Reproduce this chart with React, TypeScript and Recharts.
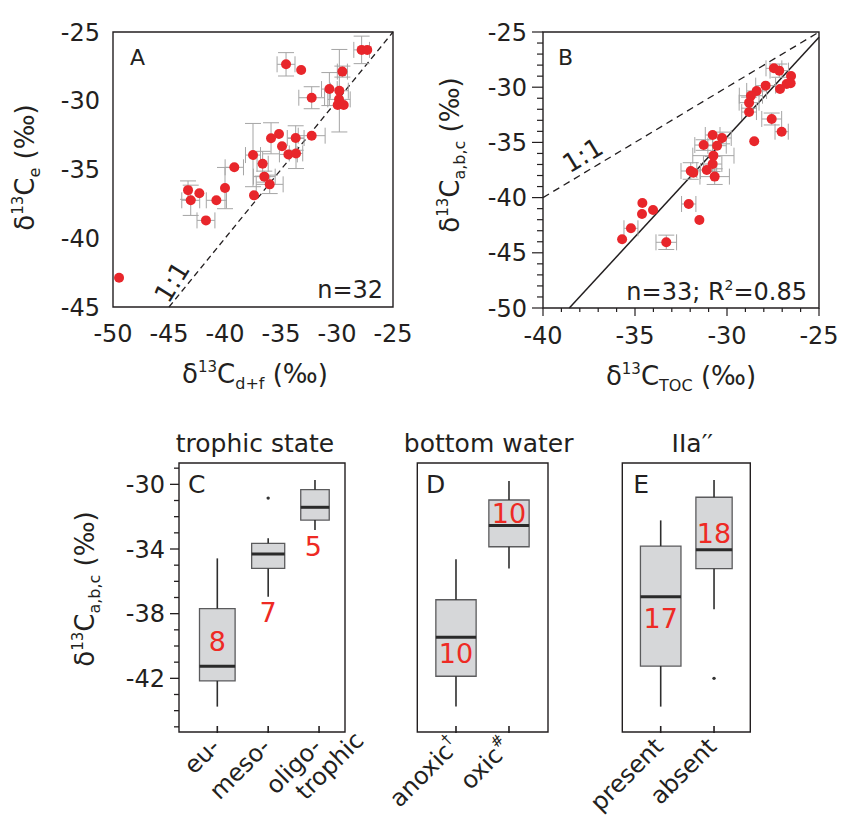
import React from 'react';
import {
  ScatterChart,
  ComposedChart,
  Scatter,
  XAxis,
  YAxis,
  ErrorBar,
  ReferenceLine,
  ReferenceArea,
  ReferenceDot,
} from 'recharts';

const FONT = '"DejaVu Sans", Verdana, sans-serif';
const INK = '#231f20';
const DOT_RED = '#e8262b';
const NUM_RED = '#ee2a24';
const ERR_GRAY = '#a5a5a5';
const BOX_FILL = '#d6d7d9';
const BOX_EDGE = '#5b5b5d';
const WHISKER = '#2e2e2e';

const TICK_FS = 24;

// ---------------- Panel A data ----------------
const aX = [-27.8, -27.3, -34.55, -33.2, -29.52, -30.68, -29.79, -32.26, -29.82, -29.94, -29.4, -35.18, -35.89, -33.69, -32.26, -34.91, -34.34, -33.66, -37.5, -36.64, -39.17, -36.49, -36.01, -40.0, -43.3, -42.29, -37.41, -43.06, -40.77, -41.7, -49.46];
const aY = [-26.3, -26.3, -27.35, -27.76, -27.88, -29.15, -29.27, -29.78, -29.9, -30.31, -30.31, -32.42, -32.73, -32.71, -32.54, -33.31, -33.9, -33.83, -33.95, -34.58, -34.84, -35.52, -36.08, -36.35, -36.5, -36.73, -36.88, -37.24, -37.24, -38.7, -42.87];
const aErrX = [0.7, 0, 0.8, 0, 0.45, 0.7, 0.8, 1.15, 1.0, 0, 0, 0, 0, 0.75, 1.2, 0, 0.8, 0.6, 0.67, 0.5, 0.82, 0.97, 1.2, 0, 0, 0, 0, 0.8, 0.9, 0.8, 0];
const aErrY = [1.0, 0, 0.85, 0, 0.4, 1.2, 3.0, 0.8, 0, 0, 0, 0, 1.13, 0.89, 0, 0, 0, 1.1, 2.3, 0.9, 0, 0.4, 0.67, 1.5, 0.67, 0, 0, 1.1, 0, 0, 0];
const aXTicks = [-50, -45, -40, -35, -30, -25];
const aYTicks = [-45, -40, -35, -30, -25];
const aOneToOne = [{ x: -45, y: -45 }, { x: -25, y: -25 }];

// ---------------- Panel B data ----------------
const bX = [-27.45, -27.16, -26.52, -27.9, -26.76, -26.54, -27.12, -28.39, -28.7, -28.8, -28.8, -27.57, -27.03, -30.78, -30.27, -31.27, -30.54, -28.52, -30.74, -30.78, -31.97, -31.83, -31.1, -30.67, -34.6, -32.08, -34.02, -34.62, -31.5, -35.22, -35.7, -33.3];
const bY = [-28.29, -28.5, -28.99, -29.86, -29.71, -29.65, -30.16, -30.34, -30.77, -31.4, -32.25, -32.88, -34.03, -34.33, -34.6, -35.24, -35.3, -34.9, -36.2, -36.96, -37.59, -37.74, -37.5, -38.1, -40.49, -40.58, -41.12, -41.49, -42.03, -42.78, -43.78, -44.05];
const bErrX = [0.43, 0.5, 0, 0.54, 0, 0, 0, 0.54, 0.63, 0.54, 0.4, 0.54, 0.36, 0.4, 0.5, 0.48, 0.5, 0, 1.12, 0.5, 0.53, 0, 0.54, 0.8, 0, 0.39, 0, 0, 0, 0.38, 0, 0.56];
const bErrY = [0, 0.6, 0, 0, 0, 0, 0, 0, 0, 0.5, 0, 0.54, 0, 0, 0.53, 0.48, 0, 0, 0, 0.68, 0.75, 0, 0, 0.71, 0, 0, 0, 0, 0, 0, 0, 0.65];
const bXTicks = [-40, -39, -38, -37, -36, -35, -34, -33, -32, -31, -30, -29, -28, -27, -26, -25];
const bYTicks = [-50, -49, -48, -47, -46, -45, -44, -43, -42, -41, -40, -39, -38, -37, -36, -35, -34, -33, -32, -31, -30, -29, -28, -27, -26, -25];
const bOneToOne = [{ x: -40, y: -40 }, { x: -25, y: -25 }];
const bFit = [{ x: -38.57, y: -50 }, { x: -25, y: -25.48 }];

// ---------------- Box panels (C, D, E) ----------------
const boxYTicks = [-45, -44, -43, -42, -41, -40, -39, -38, -37, -36, -35, -34, -33, -32, -31, -30, -29];
const boxYMajor = [-42, -38, -34, -30];
const boxDomain: [number, number] = [-45.32, -28.68];

// C: trophic state
const trophicTicks = [1, 2, 3];
const trophicLabels = [[{ text: 'eu-' }], [{ text: 'meso-' }], [{ text: 'oligo-' }, { text: 'trophic' }]];
const trophicPos = [1, 2, 2.92];
const trophicLow = [-43.75, -36.95, -32.83];
const trophicQ1 = [-42.16, -35.2, -32.21];
const trophicMed = [-41.26, -34.31, -31.42];
const trophicQ3 = [-37.69, -33.65, -30.33];
const trophicHigh = [-34.58, -33.34, -29.73];
const trophicN = [8, 7, 5];
const trophicNX = [1, 2, 2.89];
const trophicNY = [-39.73, -37.92, -33.86];
const trophicOutX = [2];
const trophicOutY = [-30.85];

// D: bottom water
const waterTicks = [1, 2];
const waterLabels = [[{ text: 'anoxic', sup: '†' }], [{ text: 'oxic', sup: '#' }]];
const waterPos = [1, 2];
const waterLow = [-43.75, -35.2];
const waterQ1 = [-41.87, -33.86];
const waterMed = [-39.46, -32.54];
const waterQ3 = [-37.14, -30.97];
const waterHigh = [-34.64, -29.8];
const waterN = [10, 10];
const waterNX = [1, 2];
const waterNY = [-40.45, -31.8];
const waterOutX: number[] = [];
const waterOutY: number[] = [];

// E: IIa''
const iiaTicks = [1, 2];
const iiaLabels = [[{ text: 'present' }], [{ text: 'absent' }]];
const iiaPos = [1, 2];
const iiaLow = [-43.75, -37.73];
const iiaQ1 = [-41.24, -35.22];
const iiaMed = [-36.95, -34.04];
const iiaQ3 = [-33.82, -30.8];
const iiaHigh = [-32.23, -29.73];
const iiaN = [17, 18];
const iiaNX = [1, 2];
const iiaNY = [-38.29, -33.03];
const iiaOutX = [2];
const iiaOutY = [-42.0];

// ---------------- helpers ----------------
type LabelLine = { text: string; sup?: string };

const textDot = (key: string, x: number, y: number, render: (cx: number, cy: number) => React.ReactNode) => (
  <ReferenceDot
    key={key}
    x={x}
    y={y}
    r={0}
    ifOverflow="visible"
    shape={() => <g />}
    label={{ content: (p: any) => render(p.viewBox.x, p.viewBox.y) }}
  />
);

const deltaTitle = (x: number, y: number, sub: string, rotate: boolean) => (
  <text
    x={x}
    y={y}
    textAnchor="middle"
    fontSize={26}
    fontFamily={FONT}
    fill={INK}
    transform={rotate ? `rotate(-90, ${x}, ${y})` : undefined}
  >
    δ
    <tspan fontSize={15} dy={-11}>13</tspan>
    <tspan dy={11}>C</tspan>
    <tspan fontSize={16} dy={6}>{sub}</tspan>
    <tspan dy={-6}> (‰)</tspan>
  </text>
);

const BTickX = (props: any) => {
  const { x, y, payload } = props;
  const v = Number(payload.value);
  const major = Math.abs(v % 5) < 1e-9;
  return (
    <g>
      <line x1={x} y1={y} x2={x} y2={y + (major ? 8 : 4)} stroke={INK} strokeWidth={1.2} />
      {major && (
        <text x={x} y={y + 19} dy="0.71em" textAnchor="middle" fontSize={TICK_FS} fontFamily={FONT} fill={INK}>
          {v}
        </text>
      )}
    </g>
  );
};

const BTickY = (props: any) => {
  const { x, y, payload } = props;
  const v = Number(payload.value);
  const major = Math.abs(v % 5) < 1e-9;
  return (
    <g>
      <line x1={x} y1={y} x2={x - (major ? 11 : 6)} y2={y} stroke={INK} strokeWidth={1.2} />
      {major && (
        <text x={x - 16} y={y} dy="0.36em" textAnchor="end" fontSize={TICK_FS} fontFamily={FONT} fill={INK}>
          {v}
        </text>
      )}
    </g>
  );
};

const BoxTickY = (props: any) => {
  const { x, y, payload } = props;
  const v = Number(payload.value);
  const major = boxYMajor.includes(v);
  return (
    <g>
      <line x1={x} y1={y} x2={x - (major ? 9 : 5)} y2={y} stroke={INK} strokeWidth={1.3} />
      {major && (
        <text x={x - 14} y={y} dy="0.36em" textAnchor="end" fontSize={TICK_FS} fontFamily={FONT} fill={INK}>
          {v}
        </text>
      )}
    </g>
  );
};

const makeCatTick = (ticks: number[], labels: LabelLine[][]) => (props: any) => {
  const { x, y, payload } = props;
  const idx = ticks.indexOf(Number(payload.value));
  const lines = labels[idx] || [];
  return (
    <g>
      <line x1={x} y1={y + 1} x2={x} y2={y - 6} stroke={INK} strokeWidth={1.6} />
      {lines.map((ln, i) => {
        const ax = x + 4 + i * 42;
        const ay = y + 16 - i * 6;
        return (
          <text
            key={i}
            x={ax}
            y={ay}
            textAnchor="end"
            transform={`rotate(-45, ${ax}, ${ay})`}
            fontSize={24}
            fontFamily={FONT}
            fill={INK}
          >
            {ln.text}
            {ln.sup ? (
              <tspan fontSize={15} dy={-11}>
                {ln.sup}
              </tspan>
            ) : null}
          </text>
        );
      })}
    </g>
  );
};

type BoxSet = {
  pos: number[];
  low: number[];
  q1: number[];
  med: number[];
  q3: number[];
  high: number[];
  widths: number[];
};

const boxElements = (s: BoxSet, prefix: string) => {
  const els: React.ReactNode[] = [];
  s.pos.forEach((p, i) => {
    const hw = s.widths[i] / 2;
    els.push(
      <ReferenceArea
        key={`${prefix}b${i}`}
        x1={p - hw}
        x2={p + hw}
        y1={s.q1[i]}
        y2={s.q3[i]}
        fill={BOX_FILL}
        fillOpacity={1}
        stroke={BOX_EDGE}
        strokeWidth={1.3}
        ifOverflow="visible"
      />
    );
  });
  s.pos.forEach((p, i) => {
    const hw = s.widths[i] / 2;
    els.push(
      <ReferenceLine
        key={`${prefix}wh${i}`}
        segment={[{ x: p, y: s.q3[i] }, { x: p, y: s.high[i] }]}
        stroke={WHISKER}
        strokeWidth={1.6}
        ifOverflow="visible"
      />,
      <ReferenceLine
        key={`${prefix}wl${i}`}
        segment={[{ x: p, y: s.low[i] }, { x: p, y: s.q1[i] }]}
        stroke={WHISKER}
        strokeWidth={1.6}
        ifOverflow="visible"
      />,
      <ReferenceLine
        key={`${prefix}m${i}`}
        segment={[{ x: p - hw, y: s.med[i] }, { x: p + hw, y: s.med[i] }]}
        stroke="#2a2a2a"
        strokeWidth={3}
        ifOverflow="visible"
      />
    );
  });
  return els;
};

const frameTitle = (title: string, dx: number) => (p: any) => {
  const vb = p.viewBox;
  return (
    <text x={vb.x + vb.width / 2 + dx} y={vb.y - 11} textAnchor="middle" fontSize={25} fontFamily={FONT} fill={INK}>
      {title}
    </text>
  );
};

const zip3 = (xs: number[], ys: number[], ns: number[]) => xs.map((x, i) => ({ x, y: ys[i], n: ns[i] }));
const zip2 = (xs: number[], ys: number[]) => xs.map((x, i) => ({ x, y: ys[i] }));

const nShape = (p: any) => (
  <text x={p.cx} y={p.cy} dy="0.36em" textAnchor="middle" fontSize={27} fontFamily={FONT} fill={NUM_RED}>
    {p.payload.n}
  </text>
);
const outShape = (p: any) => <circle cx={p.cx} cy={p.cy} r={1.7} fill="#333" />;
const dotShape = (p: any) => <circle cx={p.cx} cy={p.cy} r={5} fill={DOT_RED} />;

// ---------------- panels ----------------
const PanelA = () => {
  const data = aX.map((x, i) => ({ x, y: aY[i], ex: aErrX[i], ey: aErrY[i] }));
  return (
    <ScatterChart width={420} height={400} margin={{ top: 32, right: 27, bottom: 13, left: 0 }}>
      <XAxis
        type="number"
        dataKey="x"
        domain={[-50, -25]}
        ticks={aXTicks}
        interval={0}
        tickSize={0}
        tickMargin={18}
        axisLine={false}
        tickLine={false}
        height={80}
        tick={{ fontSize: TICK_FS, fill: INK, fontFamily: FONT }}
        label={{ content: (p: any) => deltaTitle(p.viewBox.x + p.viewBox.width / 2 + 2, p.viewBox.y + 76, 'd+f', false) }}
      />
      <YAxis
        type="number"
        dataKey="y"
        domain={[-45, -25]}
        ticks={aYTicks}
        interval={0}
        tickSize={0}
        tickMargin={13}
        axisLine={false}
        tickLine={false}
        width={113}
        tick={{ fontSize: TICK_FS, fill: INK, fontFamily: FONT }}
        label={{ content: (p: any) => deltaTitle(p.viewBox.x + 34, p.viewBox.y + p.viewBox.height / 2 - 2, 'e', true) }}
      />
      <ReferenceArea x1={-50} x2={-25} y1={-45} y2={-25} fill="none" stroke={INK} strokeWidth={1.4} ifOverflow="visible" />
      <ReferenceLine segment={aOneToOne} stroke={INK} strokeWidth={1.3} strokeDasharray="6 4" ifOverflow="visible" />
      <Scatter data={data} isAnimationActive={false} shape={dotShape}>
        <ErrorBar dataKey="ex" direction="x" width={8} stroke={ERR_GRAY} strokeWidth={1} isAnimationActive={false} />
        <ErrorBar dataKey="ey" direction="y" width={8} stroke={ERR_GRAY} strokeWidth={1} isAnimationActive={false} />
      </Scatter>
      {textDot('la', -48.48, -27.4, (cx, cy) => (
        <text x={cx} y={cy} fontSize={22} fontFamily={FONT} fill={INK}>A</text>
      ))}
      {textDot('na', -25.89, -44.37, (cx, cy) => (
        <text x={cx} y={cy} textAnchor="end" fontSize={24} fontFamily={FONT} fill={INK}>n=32</text>
      ))}
      {textDot('oa', -44.76, -43.16, (cx, cy) => (
        <text x={cx} y={cy} dy="0.36em" textAnchor="middle" fontSize={26} fontFamily={FONT} fill={INK} transform={`rotate(-58, ${cx}, ${cy})`}>1:1</text>
      ))}
    </ScatterChart>
  );
};

const PanelB = () => {
  const data = bX.map((x, i) => ({ x, y: bY[i], ex: bErrX[i], ey: bErrY[i] }));
  return (
    <ScatterChart width={422} height={400} margin={{ top: 32, right: 23, bottom: 12, left: 0 }}>
      <XAxis
        type="number"
        dataKey="x"
        domain={[-40, -25]}
        ticks={bXTicks}
        interval={0}
        tickSize={0}
        tickMargin={0}
        axisLine={false}
        tickLine={false}
        height={80}
        tick={BTickX}
        label={{ content: (p: any) => deltaTitle(p.viewBox.x + p.viewBox.width / 2, p.viewBox.y + 77, 'TOC', false) }}
      />
      <YAxis
        type="number"
        dataKey="y"
        domain={[-50, -25]}
        ticks={bYTicks}
        interval={0}
        tickSize={0}
        tickMargin={0}
        axisLine={false}
        tickLine={false}
        width={123}
        tick={BTickY}
        label={{ content: (p: any) => deltaTitle(p.viewBox.x + 39, p.viewBox.y + p.viewBox.height / 2 - 15, 'a,b,c', true) }}
      />
      <ReferenceArea x1={-40} x2={-25} y1={-50} y2={-25} fill="none" stroke={INK} strokeWidth={1.4} ifOverflow="visible" />
      <ReferenceLine segment={bOneToOne} stroke={INK} strokeWidth={1.3} strokeDasharray="7 5" ifOverflow="visible" />
      <ReferenceLine segment={bFit} stroke={INK} strokeWidth={1.5} ifOverflow="visible" />
      <Scatter data={data} isAnimationActive={false} shape={dotShape}>
        <ErrorBar dataKey="ex" direction="x" width={8} stroke={ERR_GRAY} strokeWidth={1} isAnimationActive={false} />
        <ErrorBar dataKey="ey" direction="y" width={8} stroke={ERR_GRAY} strokeWidth={1} isAnimationActive={false} />
      </Scatter>
      {textDot('lb', -39.18, -27.99, (cx, cy) => (
        <text x={cx} y={cy} fontSize={22} fontFamily={FONT} fill={INK}>B</text>
      ))}
      {textDot('nb', -25.65, -49.28, (cx, cy) => (
        <text x={cx} y={cy} textAnchor="end" fontSize={24} fontFamily={FONT} fill={INK}>
          n=33; R<tspan fontSize={14} dy={-10}>2</tspan>
          <tspan dy={10}>=0.85</tspan>
        </text>
      ))}
      {textDot('ob', -37.85, -36.14, (cx, cy) => (
        <text x={cx} y={cy} dy="0.36em" textAnchor="middle" fontSize={26} fontFamily={FONT} fill={INK} transform={`rotate(-31, ${cx}, ${cy})`}>1:1</text>
      ))}
    </ScatterChart>
  );
};

type BoxPanelProps = {
  width: number;
  margin: { top: number; right: number; bottom: number; left: number };
  xDomain: [number, number];
  ticks: number[];
  labels: LabelLine[][];
  set: BoxSet;
  nData: { x: number; y: number; n: number }[];
  outData: { x: number; y: number }[];
  title: string;
  titleDx: number;
  letter: string;
  letterX: number;
  showY: boolean;
  id: string;
};

const BoxPanel = (p: BoxPanelProps) => (
  <ComposedChart width={p.width} height={419} margin={p.margin}>
    <XAxis
      type="number"
      dataKey="x"
      domain={p.xDomain}
      ticks={p.ticks}
      interval={0}
      tickSize={0}
      tickMargin={0}
      axisLine={false}
      tickLine={false}
      height={80}
      tick={makeCatTick(p.ticks, p.labels)}
    />
    {p.showY ? (
      <YAxis
        type="number"
        dataKey="y"
        domain={boxDomain}
        ticks={boxYTicks}
        interval={0}
        tickSize={0}
        tickMargin={0}
        axisLine={false}
        tickLine={false}
        width={179}
        tick={BoxTickY}
        label={{ content: (q: any) => deltaTitle(q.viewBox.x + 94, q.viewBox.y + q.viewBox.height / 2 - 8.5, 'a,b,c', true) }}
      />
    ) : (
      <YAxis type="number" dataKey="y" domain={boxDomain} hide />
    )}
    <ReferenceArea
      x1={p.xDomain[0]}
      x2={p.xDomain[1]}
      y1={boxDomain[0]}
      y2={boxDomain[1]}
      fill="none"
      stroke={INK}
      strokeWidth={1.4}
      ifOverflow="visible"
      label={{ content: frameTitle(p.title, p.titleDx) }}
    />
    {boxElements(p.set, p.id)}
    <Scatter data={p.outData} isAnimationActive={false} shape={outShape} />
    <Scatter data={p.nData} isAnimationActive={false} shape={nShape} />
    {textDot(`l${p.id}`, p.letterX, -30.54, (cx, cy) => (
      <text x={cx} y={cy} fontSize={25} fontFamily={FONT} fill={INK}>{p.letter}</text>
    ))}
  </ComposedChart>
);

export default function App() {
  return (
    <div style={{ position: 'absolute', left: 0, top: 0, width: 842, height: 819, background: '#fff', fontFamily: FONT }}>
      <div style={{ position: 'absolute', left: 0, top: 0 }}>
        <PanelA />
      </div>
      <div style={{ position: 'absolute', left: 420, top: 0 }}>
        <PanelB />
      </div>
      <div style={{ position: 'absolute', left: 0, top: 400 }}>
        <BoxPanel
          id="c"
          width={400}
          margin={{ top: 63, right: 55, bottom: 7, left: 0 }}
          xDomain={[0.247, 3.51]}
          ticks={trophicTicks}
          labels={trophicLabels}
          set={{ pos: trophicPos, low: trophicLow, q1: trophicQ1, med: trophicMed, q3: trophicQ3, high: trophicHigh, widths: [0.7, 0.65, 0.56] }}
          nData={zip3(trophicNX, trophicNY, trophicN)}
          outData={zip2(trophicOutX, trophicOutY)}
          title="trophic state"
          titleDx={-7}
          letter="C"
          letterX={0.424}
          showY
        />
      </div>
      <div style={{ position: 'absolute', left: 340, top: 400 }}>
        <BoxPanel
          id="d"
          width={270}
          margin={{ top: 63, right: 62, bottom: 7, left: 77.3 }}
          xDomain={[0.27, 2.736]}
          ticks={waterTicks}
          labels={waterLabels}
          set={{ pos: waterPos, low: waterLow, q1: waterQ1, med: waterMed, q3: waterQ3, high: waterHigh, widths: [0.76, 0.76] }}
          nData={zip3(waterNX, waterNY, waterN)}
          outData={zip2(waterOutX, waterOutY)}
          title="bottom water"
          titleDx={6}
          letter="D"
          letterX={0.434}
          showY={false}
        />
      </div>
      <div style={{ position: 'absolute', left: 570, top: 400 }}>
        <BoxPanel
          id="e"
          width={272}
          margin={{ top: 63, right: 91.7, bottom: 7, left: 52.3 }}
          xDomain={[0.28, 2.68]}
          ticks={iiaTicks}
          labels={iiaLabels}
          set={{ pos: iiaPos, low: iiaLow, q1: iiaQ1, med: iiaMed, q3: iiaQ3, high: iiaHigh, widths: [0.76, 0.68] }}
          nData={zip3(iiaNX, iiaNY, iiaN)}
          outData={zip2(iiaOutX, iiaOutY)}
          title="IIa′′"
          titleDx={6}
          letter="E"
          letterX={0.486}
          showY={false}
        />
      </div>
    </div>
  );
}
